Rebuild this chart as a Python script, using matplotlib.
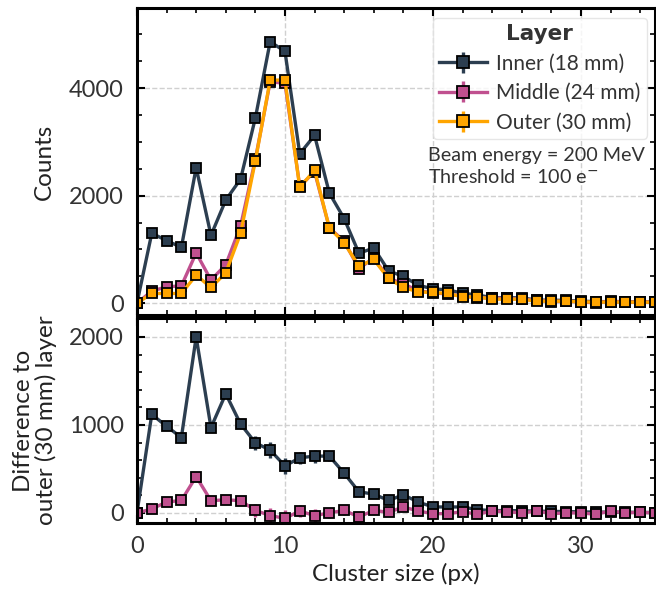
import matplotlib
matplotlib.use("Agg")
import matplotlib.pyplot as plt
from matplotlib.ticker import MultipleLocator
import numpy as np

plt.rcParams['font.family'] = ['Lato', 'DejaVu Sans']

cluster_size = np.arange(0, 36)

inner = [0, 1300, 1165, 1037, 2521, 1262, 1918, 2307, 3445, 4863, 4683, 2779,
         3120, 2047, 1573, 928, 1027, 601, 498, 334, 267, 248, 185, 154,
         101, 101, 99, 57, 55, 52, 36, 30, 28, 28, 24, 23]
middle = [0, 225, 304, 322, 934, 431, 714, 1435, 2677, 4119, 4088, 2174,
          2444, 1401, 1151, 643, 842, 466, 360, 232, 191, 172, 131, 102,
          96, 88, 74, 59, 29, 37, 24, 5, 42, 20, 25, 18]
outer = [0, 180, 180, 180, 521, 292, 564, 1296, 2648, 4149, 4149, 2152,
         2474, 1401, 1122, 688, 813, 459, 292, 210, 199, 180, 117, 117,
         74, 74, 74, 37, 37, 37, 24, 20, 20, 20, 18, 18]

layers = ['Inner (18 mm)', 'Middle (24 mm)', 'Outer (30 mm)']
colors = ['#2c3e50', '#c0508f', '#ffa500']
counts = [np.array(inner), np.array(middle), np.array(outer)]

fig = plt.figure(figsize=(6.56, 5.92), dpi=100)
ax1 = fig.add_axes([0.2088, 0.4679, 0.7896, 0.5186])
ax2 = fig.add_axes([0.2088, 0.1166, 0.7896, 0.3463])

style = dict(marker='s', markersize=7.8, markeredgecolor='k', markeredgewidth=1.3,
             linewidth=2.4, elinewidth=2.4, capsize=0)

for name, c, y in zip(layers, colors, counts):
    ax1.errorbar(cluster_size, y, yerr=np.sqrt(y), color=c, markerfacecolor=c,
                 label=name, **style)

# difference to outer layer (inner and middle only)
for c, y in zip(colors[:2], counts[:2]):
    diff = y - counts[2]
    ax2.errorbar(cluster_size, diff, yerr=np.sqrt(y + counts[2]), color=c,
                 markerfacecolor=c, **style)

for ax in (ax1, ax2):
    ax.set_xlim(0, 35)
    ax.xaxis.set_major_locator(MultipleLocator(10))
    ax.xaxis.set_minor_locator(MultipleLocator(2))
    ax.tick_params(which='both', direction='in', top=True, right=True,
                   labelsize=17, labelcolor='#333333')
    ax.tick_params(which='major', length=6, width=1.5, pad=9.3)
    ax.tick_params(which='minor', length=3.5, width=1.2)
    ax.grid(True, which='major', linestyle='--', color='#d0d0d0', linewidth=1)
    ax.set_axisbelow(True)
    for s in ax.spines.values():
        s.set_linewidth(2.2)

ax1.set_ylim(-220, 5490)
ax1.yaxis.set_major_locator(MultipleLocator(2000))
ax1.yaxis.set_minor_locator(MultipleLocator(500))
ax1.tick_params(labelbottom=False)
ax1.set_ylabel('Counts', fontsize=17.5, color='#222222')

ax2.set_ylim(-114, 2216)
ax2.yaxis.set_major_locator(MultipleLocator(1000))
ax2.yaxis.set_minor_locator(MultipleLocator(200))
ax2.set_ylabel('Difference to\nouter (30 mm) layer', fontsize=17.5,
               color='#222222', linespacing=1.05)
ax2.set_xlabel('Cluster size (px)', fontsize=17.5, color='#222222')

ax1.yaxis.set_label_coords(-0.158, 0.5)
ax2.yaxis.set_label_coords(-0.154, 0.5)

leg = ax1.legend(title='Layer', loc='upper right', bbox_to_anchor=(0.9846, 0.9674),
                 borderaxespad=0, fontsize=15,
                 title_fontproperties={'family': 'DejaVu Sans', 'weight': 'bold',
                                       'size': 15.5},
                 frameon=True, fancybox=True, edgecolor='#e0e0e0',
                 handlelength=2.3, labelspacing=0.45, handletextpad=0.45,
                 borderpad=0.3, markerscale=1.05)
leg.get_frame().set_linewidth(1)
for t in leg.get_texts():
    t.set_color('#333333')
leg.get_title().set_color('#333333')

ax1.text(0.562, 0.548, 'Beam energy = 200 MeV\nThreshold = 100 e$^{-}$',
         transform=ax1.transAxes, fontsize=14.2, color='#333333',
         va='top', ha='left', linespacing=1.3)

fig.savefig('out.png', dpi=100)
